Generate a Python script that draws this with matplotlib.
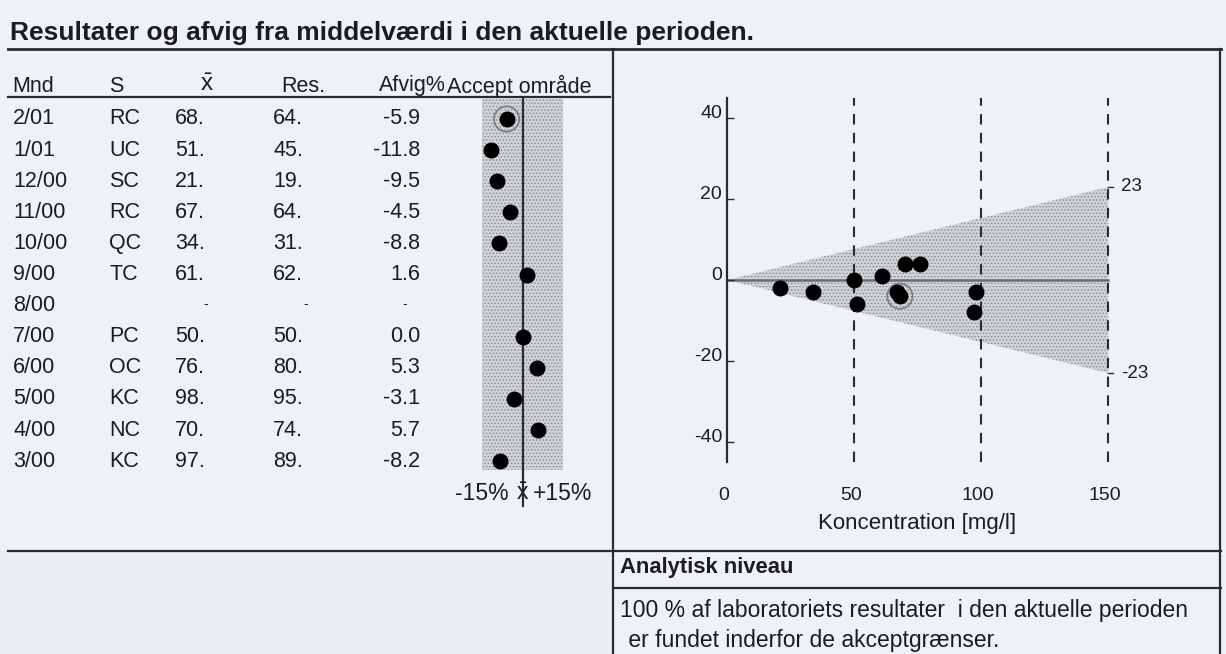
import matplotlib.pyplot as plt
from matplotlib.transforms import ScaledTranslation
import numpy as np

plt.rcParams['font.family'] = ['Liberation Sans', 'DejaVu Sans']
plt.rcParams['mathtext.fontset'] = 'custom'
plt.rcParams['mathtext.rm'] = 'Liberation Sans'
plt.rcParams['mathtext.it'] = 'Liberation Sans'
plt.rcParams['hatch.linewidth'] = 0.6

# table data (one row per month, 8/00 has no result)
months = ['2/01', '1/01', '12/00', '11/00', '10/00', '9/00', '8/00',
          '7/00', '6/00', '5/00', '4/00', '3/00']
samples = ['RC', 'UC', 'SC', 'RC', 'QC', 'TC', '', 'PC', 'OC', 'KC', 'NC', 'KC']
target = [68, 51, 21, 67, 34, 61, None, 50, 76, 98, 70, 97]
result = [64, 45, 19, 64, 31, 62, None, 50, 80, 95, 74, 89]
deviation = [-5.9, -11.8, -9.5, -4.5, -8.8, 1.6, None, 0.0, 5.3, -3.1, 5.7, -8.2]
current_row = 0

accept_pct = 15          # +/- 15 % acceptance band
conc_max = 150           # mg/l
limit_at_max = 23        # +/- limit at 150 mg/l
conc_ticks = [0, 50, 100, 150]
dev_ticks = [40, 20, 0, -20, -40]

W, H = 1226, 654
ink = '#1c1c1c'
line_c = '#2b2b2b'
stipple_face = '#d0d3d8'
stipple_dots = '#85888d'


def frac(x0, y0, x1, y1):
    # pixel box (top-left origin) -> figure fraction
    return [x0 / W, 1 - y1 / H, (x1 - x0) / W, (y1 - y0) / H]


fig = plt.figure(figsize=(W / 100, H / 100), dpi=100, facecolor='#eef1f6')

# background axes in pixel units for the form layout
bg = fig.add_axes([0, 0, 1, 1])
bg.set_xlim(0, W)
bg.set_ylim(H, 0)
bg.axis('off')
bg.add_patch(plt.Rectangle((0, 551), 613, 103, color='#e8eef1', lw=0, zorder=0))

bg.text(10, 33, 'Resultater og afvig fra middelværdi i den aktuelle perioden.',
        fontsize=19, fontweight='bold', color=ink, va='center')

# frame lines
bg.plot([8, 1221], [49, 49], color=line_c, lw=2)
bg.plot([613, 613], [49, 654], color=line_c, lw=1.6)
bg.plot([1220, 1220], [49, 654], color=line_c, lw=1.6)
bg.plot([8, 1221], [551, 551], color=line_c, lw=1.6)
bg.plot([8, 610], [97, 97], color=line_c, lw=1.6)
bg.plot([613, 1221], [588, 588], color=line_c, lw=1.6)

# table header
hdr_y = 86
fs = 15.5
bg.text(12, hdr_y, 'Mnd', fontsize=fs, color=ink, va='center')
bg.text(109, hdr_y, 'S', fontsize=fs, color=ink, va='center')
bg.text(207, hdr_y - 1, r'$\bar{\mathrm{x}}$', fontsize=fs + 2, color=ink, va='center', ha='center')
bg.text(325, hdr_y, 'Res.', fontsize=fs, color=ink, va='center', ha='right')
bg.text(446, hdr_y, 'Afvig%', fontsize=fs, color=ink, va='center', ha='right')
bg.text(447, hdr_y, 'Accept område', fontsize=fs, color=ink, va='center')

row_y0, row_dy = 119, 31.1
for i, m in enumerate(months):
    y = row_y0 + row_dy * i
    bg.text(13, y, m, fontsize=fs, color=ink, va='center')
    if target[i] is None:
        bg.text(206, y - 2, '-', fontsize=10, color=ink, va='center', ha='center')
        bg.text(306, y - 2, '-', fontsize=10, color=ink, va='center', ha='center')
        bg.text(405, y - 2, '-', fontsize=10, color=ink, va='center', ha='center')
        continue
    bg.text(109, y, samples[i], fontsize=fs, color=ink, va='center')
    bg.text(175, y, f'{target[i]}.', fontsize=fs, color=ink, va='center')
    bg.text(273, y, f'{result[i]}.', fontsize=fs, color=ink, va='center')
    bg.text(420, y, f'{deviation[i]:.1f}', fontsize=fs, color=ink, va='center', ha='right')

# acceptance column
rows = np.arange(len(months))
ax1 = fig.add_axes(frac(482, 99, 563, 470))
ax1.set_xlim(-accept_pct, accept_pct)
ax1.set_ylim((470 - row_y0) / row_dy, (99 - row_y0) / row_dy)
ax1.patch.set_alpha(0)
for s in ax1.spines.values():
    s.set_visible(False)
ax1.axvspan(-accept_pct, accept_pct, facecolor=stipple_face, edgecolor=stipple_dots,
            hatch='.....', lw=0, zorder=0)
ax1.plot([0, 0], [(99 - row_y0) / row_dy, (506 - row_y0) / row_dy],
         color=line_c, lw=1.6, clip_on=False, zorder=1)
ok = [i for i in rows if deviation[i] is not None]
ax1.scatter([deviation[i] for i in ok], [rows[i] for i in ok], s=110,
            color='black', zorder=3, clip_on=False)
ax1.scatter([deviation[current_row]], [rows[current_row]], s=330, facecolor='none',
            edgecolor='#7a7a7a', lw=1.2, zorder=2)
ax1.set_yticks([])
ax1.set_xticks([-accept_pct, 0, accept_pct])
ax1.set_xticklabels([f'-{accept_pct}%', r'$\bar{\mathrm{x}}$', f'+{accept_pct}%'],
                    fontsize=16.5, color=ink)
ax1.tick_params(axis='x', length=0, pad=9)

# deviation vs concentration
ax2 = fig.add_axes(frac(727, 98, 1121, 462))
ax2.set_xlim(0, 155)
ax2.set_ylim(-45, 45)
ax2.patch.set_alpha(0)
for k in ['top', 'right', 'bottom']:
    ax2.spines[k].set_visible(False)
ax2.spines['left'].set_color(line_c)
ax2.spines['left'].set_linewidth(1.6)

ax2.fill([0, conc_max, conc_max], [0, limit_at_max, -limit_at_max],
         facecolor=stipple_face, edgecolor=stipple_dots, hatch='.....', lw=0, zorder=0)
ax2.plot([0, conc_max], [0, 0], color='#6d6d6d', lw=1.8, zorder=1)
for c in conc_ticks[1:]:
    ax2.axvline(c, color=line_c, lw=1.5, ls=(0, (5, 4)), zorder=1)

valid = [i for i in rows if target[i] is not None]
xs = [target[i] for i in valid]
ys = [result[i] - target[i] for i in valid]
ax2.scatter(xs, ys, s=110, color='black', zorder=3)
ax2.scatter([target[current_row]], [result[current_row] - target[current_row]], s=330,
            facecolor='none', edgecolor='#7a7a7a', lw=1.2, zorder=2)

for v in [limit_at_max, -limit_at_max]:
    ax2.plot([conc_max, conc_max + 2], [v, v], color=line_c, lw=1, clip_on=False)
    ax2.text(conc_max + 5, v, f'{v}', fontsize=13.5, color=ink, va='center')

ax2.set_yticks(dev_ticks)
ax2.set_yticklabels([str(t) for t in dev_ticks], fontsize=14, color=ink)
for lab in ax2.get_yticklabels():
    lab.set_verticalalignment('baseline')
ax2.tick_params(axis='y', direction='in', length=5, width=1, pad=3.5, colors=line_c, labelcolor=ink)
ax2.set_xticks(conc_ticks)
ax2.set_xticklabels([str(t) for t in conc_ticks], fontsize=14, color=ink)
ax2.tick_params(axis='x', length=0, pad=18)
shift = ScaledTranslation(-3 / 100, 0, fig.dpi_scale_trans)
for lab in ax2.get_xticklabels():
    lab.set_transform(lab.get_transform() + shift)

bg.text(917, 523, 'Koncentration [mg/l]', fontsize=16, color=ink, va='center', ha='center')

# bottom right note
bg.text(620, 568, 'Analytisk niveau', fontsize=15.8, fontweight='bold', color=ink, va='center')
bg.text(620, 610, '100 % af laboratoriets resultater  i den aktuelle perioden',
        fontsize=16.5, color=ink, va='center')
bg.text(622, 640, ' er fundet inderfor de akceptgrænser.', fontsize=16.5, color=ink, va='center')

fig.savefig('out.png', dpi=100, facecolor=fig.get_facecolor())
